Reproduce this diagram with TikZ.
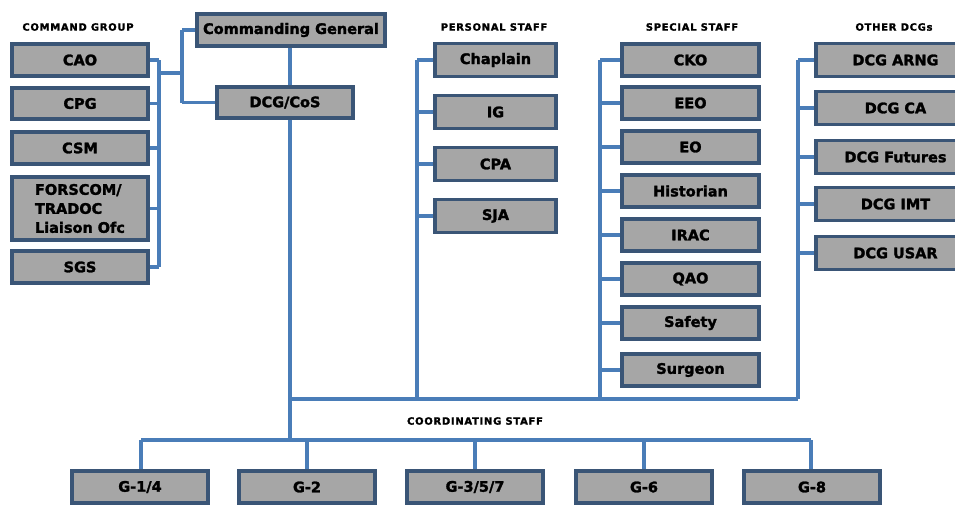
\documentclass[tikz,border=0pt]{standalone}
\usepackage{fontspec}
\setmainfont{DejaVu Sans}[BoldFeatures={FakeBold=1.8}]
\newfontfamily\headfont{DejaVu Sans}[LetterSpace=7,BoldFeatures={FakeBold=1.6}]
\definecolor{boxfill}{HTML}{A6A6A6}
\definecolor{boxline}{HTML}{3A5576}
\definecolor{conncol}{HTML}{4A7DB8}
\begin{document}
\begin{tikzpicture}[x=1pt,y=-1pt,
  box/.style={draw=boxline, fill=boxfill, line width=3.2pt, inner sep=0pt,
    align=center, font=\bfseries\fontsize{14.5}{15}\selectfont, text=black,
    minimum height=32pt},
  cgbox/.style={box, minimum width=136pt},
  psbox/.style={box, minimum width=121pt, minimum height=33pt},
  ssbox/.style={box, minimum width=137pt},
  odbox/.style={box, minimum width=159pt, minimum height=33pt},
  gbox/.style={box, minimum width=136pt},
  head/.style={font=\headfont\bfseries\fontsize{10}{11}\selectfont, text=black, inner sep=0pt},
  conn/.style={draw=conncol, line width=3.2pt}]
\useasboundingbox (0,0) rectangle (955,504);
\fill[white] (0,0) rectangle (955,504);

% coordinates for buses
\coordinate (busAj) at (159,73);
\coordinate (busB) at (182,73);
\coordinate (trunkbot) at (290,440);
\coordinate (hbusL) at (290,399);
\coordinate (psbus) at (417,399);
\coordinate (ssbus) at (600,399);
\coordinate (odbus) at (798,399);
\coordinate (gbusL) at (141,440);
\coordinate (gbusR) at (811,440);

% headings
\node[head] (hcg) at (78,27) {COMMAND GROUP};
\node[head] (hps) at (494,27) {PERSONAL STAFF};
\node[head] (hss) at (692,27) {SPECIAL STAFF};
\node[head] (hod) at (894,27) {OTHER DCGs};
\node[head] (hco) at (475,421) {COORDINATING STAFF};

% connectors (drawn first)
\draw[conn] (159,60) -- (159,267);
\foreach \y in {60,103.5,148,208.5,267} \draw[conn] (148,\y) -- (159,\y);
\draw[conn] (busAj) -- (busB);
\draw[conn] (182,30) -- (182,102.5);
\draw[conn] (182,30) -- (197,30);
\draw[conn] (182,102.5) -- (217,102.5);
\draw[conn] (290,46) -- (290,87);
\draw[conn] (290,118) -- (trunkbot);
\draw[conn] (hbusL) -- (odbus);
\draw[conn] (417,60) -- (psbus);
\foreach \y in {60,112,164,216} \draw[conn] (417,\y) -- (435,\y);
\draw[conn] (600,60) -- (ssbus);
\foreach \y in {60,103,147,191,235,279,323,370} \draw[conn] (600,\y) -- (622,\y);
\draw[conn] (798,60) -- (odbus);
\foreach \y in {60,108,157,204,253} \draw[conn] (798,\y) -- (816,\y);
\draw[conn] (gbusL) -- (gbusR);
\foreach \x in {141,307,475,644,811} \draw[conn] (\x,440) -- (\x,471);

% command group
\node[box, minimum width=188pt] (cg) at (291,30) {Commanding General};
\node[cgbox, minimum height=31pt] (dcg) at (285,102.5) {DCG/CoS};
\node[cgbox] (cao) at (80,60) {CAO};
\node[cgbox, minimum height=31pt] (cpg) at (80,103.5) {CPG};
\node[cgbox] (csm) at (80,148) {CSM};
\node[cgbox, minimum height=63pt, align=left, text width=90pt, font=\bfseries\fontsize{14.5}{19}\selectfont] (fors) at (80,208.5) {FORSCOM/\\TRADOC\\Liaison Ofc};
\node[cgbox] (sgs) at (80,267) {SGS};

% personal staff
\node[psbox] (chap) at (495.5,60) {Chaplain};
\node[psbox] (ig) at (495.5,112) {IG};
\node[psbox] (cpa) at (495.5,164) {CPA};
\node[psbox] (sja) at (495.5,216) {SJA};

% special staff
\node[ssbox] (cko) at (690.5,60) {CKO};
\node[ssbox] (eeo) at (690.5,103) {EEO};
\node[ssbox] (eo) at (690.5,147) {EO};
\node[ssbox] (hist) at (690.5,191) {Historian};
\node[ssbox] (irac) at (690.5,235) {IRAC};
\node[ssbox] (qao) at (690.5,279) {QAO};
\node[ssbox] (safety) at (690.5,323) {Safety};
\node[ssbox] (surg) at (690.5,370) {Surgeon};

% other DCGs
\node[odbox] (arng) at (895.5,60) {DCG ARNG};
\node[odbox] (ca) at (895.5,108) {DCG CA};
\node[odbox] (fut) at (895.5,157) {DCG Futures};
\node[odbox] (imt) at (895.5,204) {DCG IMT};
\node[odbox] (usar) at (895.5,253) {DCG USAR};

% G staff
\node[gbox] (g14) at (140,487) {G-1/4};
\node[gbox] (g2) at (307,487) {G-2};
\node[gbox] (g357) at (475,487) {G-3/5/7};
\node[gbox] (g6) at (644,487) {G-6};
\node[gbox] (g8) at (812,487) {G-8};
\end{tikzpicture}
\end{document}
